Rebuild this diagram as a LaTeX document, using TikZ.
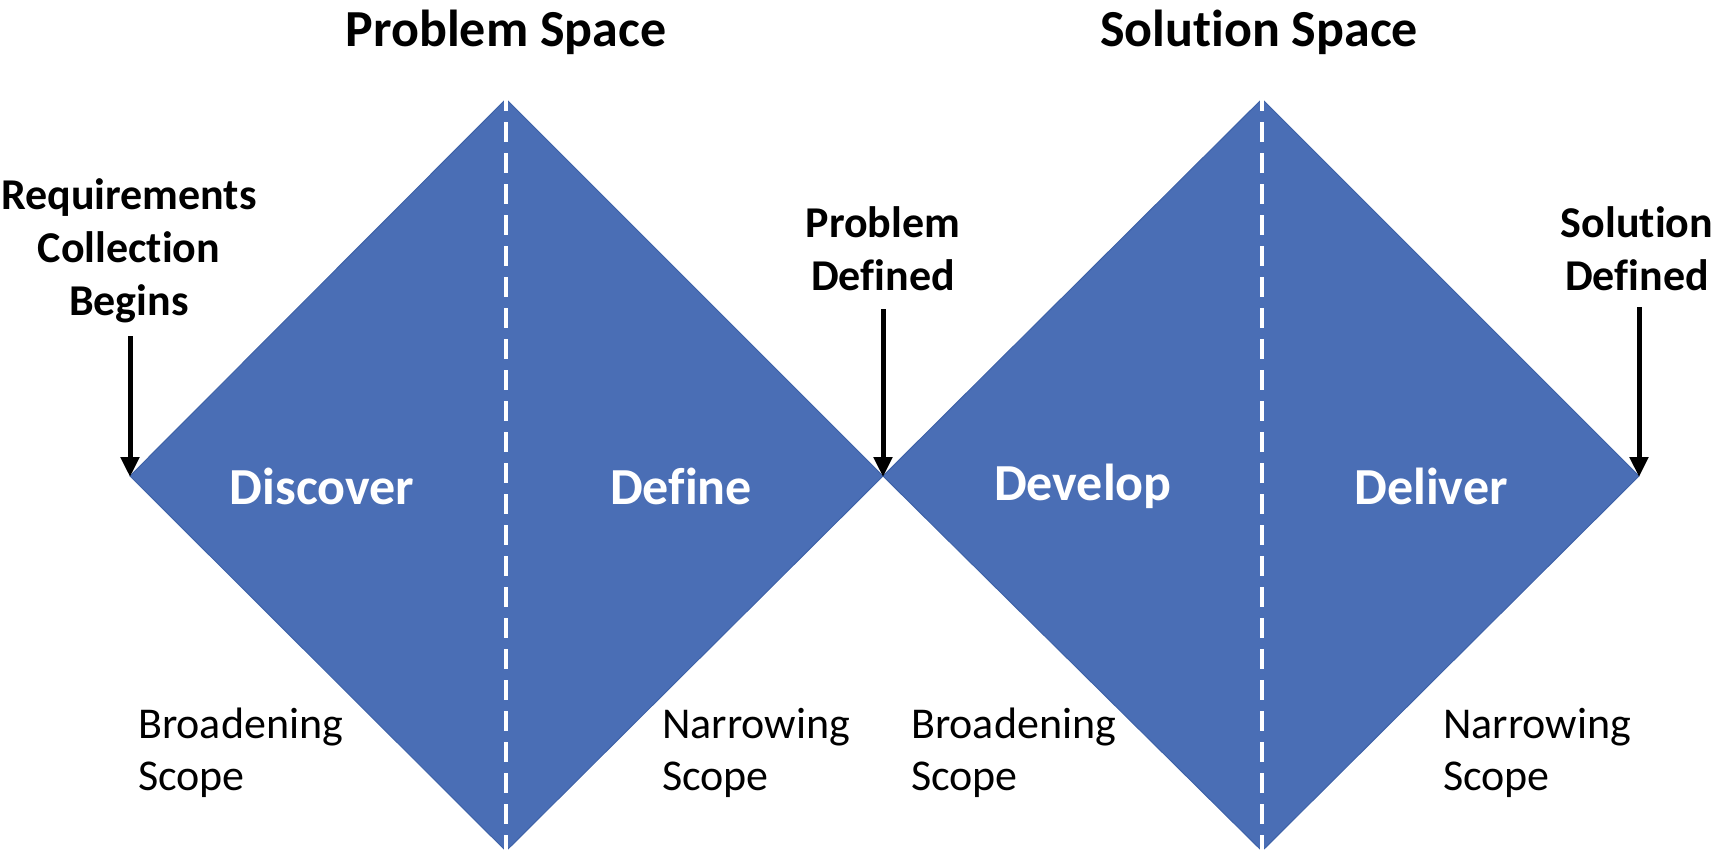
\documentclass[tikz,border=0pt]{standalone}
\usepackage{fontspec}
\setmainfont{Carlito}[Ligatures=NoCommon]
\usetikzlibrary{arrows.meta}
\definecolor{dblue}{HTML}{4A6EB5}
\definecolor{dedge}{HTML}{3E62A8}
\begin{document}
\begin{tikzpicture}[x=1pt,y=-1pt,
  diam/.style={fill=dblue,draw=dedge,line width=1pt,line join=miter},
  divider/.style={white,line width=4.5pt,dash pattern=on 20pt off 11pt},
  title/.style={font=\fontsize{52}{62}\selectfont\bfseries,inner sep=0pt},
  marker/.style={font=\fontsize{44}{53}\selectfont\bfseries,align=center,inner sep=0pt},
  phase/.style={font=\fontsize{52}{62}\selectfont\bfseries,text=white,inner sep=0pt},
  scope/.style={font=\fontsize{44}{52}\selectfont,align=left,anchor=west,inner sep=0pt},
  arr/.style={line width=5pt,-{Triangle[length=20pt,width=18pt]},shorten >=-1pt}]
\useasboundingbox (0,0) rectangle (1729,859);
% vertices
\coordinate (L1) at (130,476);
\coordinate (T1) at (506,99);
\coordinate (B1) at (506,851);
\coordinate (M) at (883,476);
\coordinate (T2) at (1262,99);
\coordinate (B2) at (1262,851);
\coordinate (R2) at (1639,476);
% diamonds
\path[diam] (L1) -- (T1) -- (M) -- (B1) -- cycle;
\path[diam] (M) -- (T2) -- (R2) -- (B2) -- cycle;
\draw[divider] ([yshift=8pt]T1) -- ([yshift=-4pt]B1);
\draw[divider] ([yshift=8pt]T2) -- ([yshift=-4pt]B2);
% titles
\node[title] (ps) at (506,32) {Problem Space};
\node[title] (ss) at (1259,32) {Solution Space};
% markers
\node[marker] (req) at (129,251) {Requirements\\Collection\\Begins};
\node[marker] (pd) at (883,249) {Problem\\Defined};
\node[marker] (sd) at (1637,249) {Solution\\Defined};
\coordinate (reqs) at (130,336);
\coordinate (pds) at (883,309);
\coordinate (sds) at (1639,307);
\draw[arr] (reqs) -- (L1);
\draw[arr] (pds) -- (M);
\draw[arr] (sds) -- (R2);
% phases
\node[phase] (disc) at (322,486) {Discover};
\node[phase] (def) at (681,486) {Define};
\node[phase] (dev) at (1083,486) {Develop};
\node[phase] (del) at (1431,486) {Deliver};
% scopes
\node[scope] (bs1) at (138,753) {Broadening\\Scope};
\node[scope] (ns1) at (662,753) {Narrowing\\Scope};
\node[scope] (bs2) at (911,753) {Broadening\\Scope};
\node[scope] (ns2) at (1443,753) {Narrowing\\Scope};
\end{tikzpicture}
\end{document}
